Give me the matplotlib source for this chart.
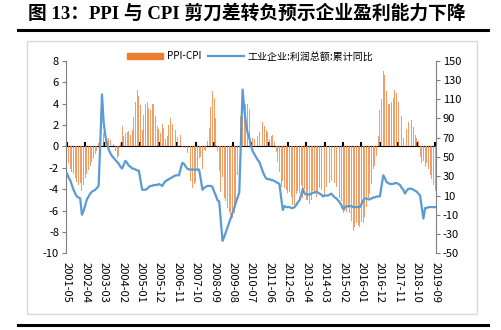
import matplotlib
matplotlib.use("Agg")
import matplotlib.pyplot as plt
from matplotlib.patches import Rectangle
from matplotlib.lines import Line2D
import numpy as np
import pandas as pd

plt.rcParams['font.family'] = ['Noto Sans CJK SC', 'DejaVu Sans']
plt.rcParams['axes.unicode_minus'] = False

# monthly, 2001-05 .. 2019-09
months = pd.date_range("2001-05-01", periods=221, freq="MS").strftime("%Y-%m").tolist()

# PPI-CPI (left axis)
ppi_cpi = [
    -1.2, -1.6, -2.1, -2.4, -2.6, -3.0, -3.3, -3.6,                    # 2001
    -3.4, -4.2, -3.6, -3.0, -2.6, -2.2, -1.8, -1.5, -1.1, -0.7, -0.4, 0.3,  # 2002
    1.0, 1.5, 1.2, 1.0, 0.7, 0.8, 0.6, 0.4, 0.2, -0.4, -1.1, -0.9,     # 2003
    0.3, 1.9, 1.0, 1.2, 1.3, 1.4, 1.1, 1.5, 2.7, 4.1, 5.3, 4.7,        # 2004
    3.9, 1.5, 2.9, 4.0, 4.1, 3.6, 3.4, 4.0, 4.0, 2.8, 1.9, 1.6,        # 2005
    1.2, 2.1, 1.7, 0.7, 1.0, 2.0, 2.6, 2.1, 2.0, 1.5, 0.9, 0.3,        # 2006
    1.1, -0.1, -0.6, -0.2, -0.6, -1.9, -3.2, -3.9, -3.5, -3.3, -2.3, -1.1,  # 2007
    -1.0, -2.1, -0.3, -0.4, 0.5, 1.7, 3.7, 5.2, 4.5, 2.6, -0.4, -2.3,  # 2008
    -4.3, -2.9, -4.8, -5.1, -5.8, -6.1, -6.4, -6.7, -6.2, -5.3, -2.7, -0.2,  # 2009
    2.8, 2.7, 3.5, 4.0, 4.0, 3.5, 1.5, 0.8, 0.7, 0.6, 1.0, 1.3,        # 2010
    1.7, 2.3, 1.9, 1.5, 1.3, 0.7, 1.0, 1.1, 0.4, -0.5, -1.5, -2.4,     # 2011
    -3.8, -3.2, -3.9, -4.1, -4.4, -4.3, -4.7, -5.5, -5.5, -4.5, -4.2, -4.4,  # 2012
    -3.6, -4.8, -4.0, -5.0, -5.0, -5.4, -5.0, -4.2, -4.4, -4.7, -4.4, -3.9,  # 2013
    -4.1, -4.0, -4.7, -3.8, -3.9, -3.4, -3.2, -3.2, -3.4, -3.8, -4.1, -4.8,  # 2014
    -5.1, -6.2, -6.0, -6.1, -5.8, -6.2, -7.0, -7.9, -7.5, -7.2, -7.4, -7.5,  # 2015
    -7.1, -7.2, -6.6, -5.7, -4.8, -4.5, -3.5, -2.1, -1.8, -0.9, 1.0, 3.4,  # 2016
    4.4, 7.0, 6.7, 5.2, 4.0, 4.0, 4.1, 4.5, 5.3, 5.0, 4.1, 3.1,        # 2017
    2.8, 0.8, 1.0, 1.6, 2.3, 2.8, 2.5, 1.8, 1.1, 0.8, 0.5, -1.0,       # 2018
    -1.6, -1.4, -1.9, -1.6, -2.1, -2.7, -3.1, -3.6, -4.2,              # 2019
]

# 工业企业:利润总额:累计同比 (right axis)
profit = [
    33, 29, 26, 21, 16, 12, 9, 8,                  # 2001
    7, -10, -6, 0, 6, 9, 12, 14, 15, 16, 18, 20,   # 2002
    65, 115, 86, 72, 64, 58, 54, 51, 49, 47, 45, 43,  # 2003
    40, 38, 42, 46, 44, 41, 40, 38, 38, 37, 36, 36,   # 2004
    26, 16, 16, 16, 17, 19, 20, 20, 21, 21, 21, 22,   # 2005
    21, 20, 23, 25, 26, 27, 28, 29, 30, 31, 31, 31,   # 2006
    38, 44, 43, 40, 38, 37, 37, 37, 37, 37, 37, 37,   # 2007
    27, 16, 18, 19, 20, 20, 20, 19, 14, 10, 5, 4,     # 2008
    -17, -37, -33, -28, -23, -18, -13, -8, -3, 3, 8, 13,  # 2009
    65, 120, 100, 85, 75, 70, 62, 56, 53, 50, 47, 45,  # 2010
    40, 35, 31, 28, 27, 27, 26, 26, 25, 24, 23, 22,   # 2011
    8, -5, -1, -2, -2, -2, -3, -3, -2, 0, 3, 5,       # 2012
    11, 17, 12, 11, 11, 11, 12, 13, 13, 14, 13, 12,   # 2013
    11, 9, 10, 10, 10, 11, 12, 10, 8, 7, 5, 3,        # 2014
    0, -4, -3, -1, -1, -1, -1, -2, -2, -2, -2, -2,    # 2015
    1, 5, 7, 7, 6, 6, 7, 8, 8, 9, 9, 9,               # 2016
    20, 31, 28, 24, 23, 22, 22, 22, 23, 23, 22, 21,   # 2017
    18, 16, 12, 15, 17, 17, 17, 16, 15, 14, 12, 10,   # 2018
    -2, -14, -3, -3, -2, -2, -2, -2, -2,              # 2019
]

title = "图 13：PPI 与 CPI 剪刀差转负预示企业盈利能力下降"
bar_name = "PPI-CPI"
line_name = "工业企业:利润总额:累计同比"

ORANGE = "#ED7D31"
BLUE = "#5B9BD5"
AXIS_GREY = "#7F7F7F"

x = np.arange(len(months))
tick_idx = x[::11]

fig = plt.figure(figsize=(5.01, 3.30), dpi=100)
fig.patch.set_facecolor("white")

# title and rules
fig.text(0.056, 0.958, title, fontsize=13.5, fontweight="bold",
         family=["Liberation Serif", "Noto Sans CJK SC"], va="center", ha="left")
fig.add_artist(Line2D([0.036, 0.974], [0.909, 0.909], color="black", lw=2.2))
fig.add_artist(Line2D([0.036, 0.974], [0.015, 0.015], color="black", lw=2.2))
fig.add_artist(Rectangle((0.054, 0.048), 0.898, 0.827, fill=False,
                         edgecolor="#D9D9D9", lw=1))

ax = fig.add_axes([0.1317, 0.2324, 0.7385, 0.5836])
ax.bar(x, ppi_cpi, width=0.55, color=ORANGE, linewidth=0, alpha=0.75)
ax.set_xlim(-0.5, 220.5)
ax.set_ylim(-10, 8)
ax.set_yticks(np.arange(-10, 9, 2))
ax.set_xticks(tick_idx)
ax.set_xticklabels([months[i] for i in tick_idx], rotation=-90, fontsize=8)
ax.tick_params(axis="x", length=0, pad=6)
ax.tick_params(axis="y", labelsize=8, length=3, color=AXIS_GREY, pad=2)
for s in ["top", "bottom", "right"]:
    ax.spines[s].set_visible(False)
ax.spines["left"].set_color(AXIS_GREY)

# zero line with tick marks
zero = ax.secondary_xaxis(10 / 18)
zero.set_xticks(tick_idx)
zero.set_xticklabels([])
zero.tick_params(axis="x", length=3, width=1.5, color="black")
zero.spines["bottom"].set_linewidth(1.8)
zero.spines["bottom"].set_color("black")

ax2 = ax.twinx()
ax2.plot(x, profit, color=BLUE, lw=1.6)
ax2.set_ylim(-50, 150)
ax2.set_yticks(np.arange(-50, 151, 20))
ax2.tick_params(axis="y", labelsize=8, length=3, color=AXIS_GREY, pad=2)
for s in ["top", "bottom", "left"]:
    ax2.spines[s].set_visible(False)
ax2.spines["right"].set_color(AXIS_GREY)

handles = [Rectangle((0, 0), 1, 1, color=ORANGE),
           Line2D([], [], color=BLUE, lw=1.6)]
fig.legend(handles, [bar_name, line_name], loc="center",
           bbox_to_anchor=(0.5, 0.829), ncol=2, frameon=False, fontsize=7.2,
           handlelength=3.6, handleheight=0.6, columnspacing=0.6, handletextpad=0.4)

fig.savefig("out.png", dpi=100)
